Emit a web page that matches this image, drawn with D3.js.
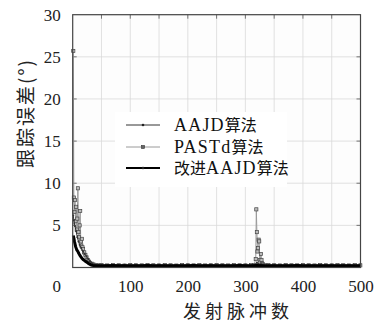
<!DOCTYPE html>
<html>
<head>
<meta charset="utf-8">
<script src="https://cdn.jsdelivr.net/npm/d3@7"></script>
<style>
  html, body { margin: 0; padding: 0; background: #fff; }
  svg { display: block; }
</style>
</head>
<body>
<svg id="chart" width="374" height="325"></svg>
<script>
// Tracking error (degrees) versus number of transmitted pulses
const xTicks = [100, 200, 300, 400, 500];
const yTicks = [5, 10, 15, 20, 25, 30];
const xGrid = [50, 100, 150, 200, 250, 300, 350, 400, 450];
const yGrid = [5, 10, 15, 20, 25];

const seriesNames = ["AAJD算法", "PASTd算法", "改进AAJD算法"];

// AAJD: pulse index and error
const aajdX = [1, 2, 3, 4, 6, 8, 10, 12, 15, 18, 21, 24, 27, 30, 33, 36, 40, 45, 50, 60, 70, 80, 90, 100, 110, 120, 130, 140, 150, 160, 170, 180, 190, 200, 210, 220, 230, 240, 250, 260, 270, 280, 290, 300, 310, 318, 320, 322, 326, 330, 340, 350, 360, 370, 380, 390, 400, 410, 420, 430, 440, 450, 460, 470, 480, 490, 500];
const aajdY = [6.2, 5.6, 5.2, 4.9, 4.3, 3.6, 3.1, 2.7, 2.3, 1.9, 1.6, 1.3, 1.0, 0.75, 0.55, 0.4, 0.32, 0.3, 0.28, 0.3, 0.26, 0.3, 0.32, 0.27, 0.3, 0.28, 0.31, 0.27, 0.29, 0.3, 0.27, 0.3, 0.28, 0.31, 0.3, 0.27, 0.3, 0.32, 0.28, 0.3, 0.27, 0.3, 0.29, 0.3, 0.28, 0.35, 0.6, 0.45, 0.35, 0.3, 0.28, 0.3, 0.27, 0.3, 0.29, 0.31, 0.28, 0.3, 0.27, 0.3, 0.29, 0.3, 0.28, 0.31, 0.3, 0.28, 0.3];

// PASTd: pulse index and error
const pastdX = [1, 2, 3, 4, 5, 6, 7, 8, 9, 10, 11, 12, 13, 14, 15, 16, 17, 18, 20, 22, 24, 26, 28, 30, 33, 36, 40, 45, 50, 60, 70, 80, 90, 100, 110, 120, 130, 140, 150, 160, 170, 180, 190, 200, 210, 220, 230, 240, 250, 260, 270, 280, 290, 300, 310, 315, 318, 319, 320, 321, 322, 323, 324, 325, 326, 327, 328, 329, 330, 331, 335, 340, 350, 360, 370, 380, 390, 400, 410, 420, 430, 440, 450, 460, 470, 480, 490, 500];
const pastdY = [25.7, 8.3, 6.6, 8.0, 5.5, 7.2, 4.5, 5.8, 9.4, 4.2, 3.6, 5.0, 6.7, 3.1, 2.6, 3.4, 2.4, 2.2, 1.8, 1.5, 1.2, 0.9, 0.7, 0.55, 0.45, 0.36, 0.3, 0.26, 0.28, 0.24, 0.3, 0.26, 0.23, 0.29, 0.26, 0.25, 0.3, 0.26, 0.24, 0.28, 0.26, 0.23, 0.3, 0.26, 0.25, 0.28, 0.24, 0.26, 0.3, 0.26, 0.24, 0.28, 0.26, 0.25, 0.27, 0.3, 1.0, 6.9, 4.2, 1.9, 2.3, 3.3, 3.1, 0.9, 0.6, 1.6, 0.9, 0.5, 0.4, 0.3, 0.26, 0.28, 0.26, 0.24, 0.29, 0.26, 0.25, 0.28, 0.26, 0.24, 0.3, 0.26, 0.25, 0.27, 0.26, 0.24, 0.28, 0.26];

// Improved AAJD: pulse index and error
const impX = [1, 2, 3, 4, 5, 6, 7, 8, 9, 10, 12, 14, 16, 18, 20, 22, 24, 26, 28, 30, 32, 35, 40, 45, 50, 60, 70, 80, 90, 100, 110, 120, 130, 140, 150, 160, 170, 180, 190, 200, 210, 220, 230, 240, 250, 260, 270, 280, 290, 300, 310, 320, 330, 340, 350, 360, 370, 380, 390, 400, 410, 420, 430, 440, 450, 460, 470, 480, 490, 500];
const impY = [3.8, 3.5, 3.1, 2.8, 2.5, 2.3, 2.1, 2.0, 1.9, 1.75, 1.5, 1.3, 1.1, 0.95, 0.85, 0.75, 0.65, 0.55, 0.45, 0.38, 0.3, 0.25, 0.22, 0.2, 0.22, 0.2, 0.23, 0.21, 0.2, 0.22, 0.2, 0.21, 0.23, 0.2, 0.22, 0.21, 0.2, 0.22, 0.21, 0.2, 0.23, 0.21, 0.2, 0.22, 0.21, 0.2, 0.22, 0.21, 0.23, 0.2, 0.22, 0.24, 0.21, 0.2, 0.22, 0.21, 0.2, 0.22, 0.23, 0.21, 0.2, 0.22, 0.21, 0.2, 0.22, 0.21, 0.2, 0.22, 0.21, 0.22];

const W = 374, H = 325;
const margin = { left: 72.7, right: 13.5, top: 14.7, bottom: 57.5 };
const iw = W - margin.left - margin.right;
const ih = H - margin.top - margin.bottom;

const svg = d3.select("#chart");
const g = svg.append("g").attr("transform", `translate(${margin.left},${margin.top})`);

const x = d3.scaleLinear().domain([0, 500]).range([0, iw]);
const y = d3.scaleLinear().domain([0, 30]).range([ih, 0]);

const serif = "'Liberation Serif', 'DejaVu Serif', serif";
const cjk = "'Noto Sans CJK SC', 'Noto Sans', sans-serif";

// plot background
g.append("rect").attr("width", iw).attr("height", ih).attr("fill", "#fdfdfd");

// grid
g.selectAll("line.gx").data(xGrid).join("line")
  .attr("x1", d => x(d)).attr("x2", d => x(d))
  .attr("y1", 0).attr("y2", ih)
  .attr("stroke", "#d9d9d9").attr("stroke-width", 0.8);
g.selectAll("line.gy").data(yGrid).join("line")
  .attr("x1", 0).attr("x2", iw)
  .attr("y1", d => y(d)).attr("y2", d => y(d))
  .attr("stroke", "#d9d9d9").attr("stroke-width", 0.8);

// axes: tick labels
const xAxis = d3.axisBottom(x).tickValues(xTicks).tickSize(0).tickPadding(12);
const gx = g.append("g").attr("transform", `translate(0,${ih})`).call(xAxis);
gx.select(".domain").remove();
gx.selectAll("text").attr("font-family", serif).attr("font-size", 17).attr("fill", "#222");

const yAxis = d3.axisLeft(y).tickValues(yTicks).tickSize(0).tickPadding(12);
const gy = g.append("g").call(yAxis);
gy.select(".domain").remove();
gy.selectAll("text").attr("font-family", serif).attr("font-size", 17).attr("fill", "#222");

// shared origin label
g.append("text")
  .attr("x", x(0) - 16).attr("y", y(0) + 25)
  .attr("text-anchor", "middle")
  .attr("font-family", serif).attr("font-size", 17).attr("fill", "#222")
  .text("0");

// inward tick marks on all four sides
const tickLen = 4;
const tickG = g.append("g").attr("stroke", "#555").attr("stroke-width", 0.8);
xGrid.forEach(v => {
  tickG.append("line").attr("x1", x(v)).attr("x2", x(v)).attr("y1", ih).attr("y2", ih - tickLen);
  tickG.append("line").attr("x1", x(v)).attr("x2", x(v)).attr("y1", 0).attr("y2", tickLen);
});
yGrid.forEach(v => {
  tickG.append("line").attr("x1", 0).attr("x2", tickLen).attr("y1", y(v)).attr("y2", y(v));
  tickG.append("line").attr("x1", iw).attr("x2", iw - tickLen).attr("y1", y(v)).attr("y2", y(v));
});

// series
g.append("clipPath").attr("id", "plotclip")
  .append("rect").attr("x", -2).attr("y", -2).attr("width", iw + 4).attr("height", ih + 4);
const plot = g.append("g").attr("clip-path", "url(#plotclip)");

const line = d3.line().x(d => x(d[0])).y(d => y(d[1]));
const pastd = pastdX.map((v, i) => [v, pastdY[i]]);
const aajd = aajdX.map((v, i) => [v, aajdY[i]]);
const imp = impX.map((v, i) => [v, impY[i]]);

plot.append("path").datum(pastd).attr("d", line)
  .attr("fill", "none").attr("stroke", "#9a9a9a").attr("stroke-width", 1);
plot.selectAll("rect.pm").data(pastd).join("rect")
  .attr("x", d => x(d[0]) - 1.6).attr("y", d => y(d[1]) - 1.6)
  .attr("width", 3.2).attr("height", 3.2)
  .attr("fill", "#bbb").attr("stroke", "#444").attr("stroke-width", 0.7);

plot.append("path").datum(aajd).attr("d", line)
  .attr("fill", "none").attr("stroke", "#333").attr("stroke-width", 1);
plot.selectAll("circle.am").data(aajd).join("circle")
  .attr("cx", d => x(d[0])).attr("cy", d => y(d[1])).attr("r", 1)
  .attr("fill", "#333");

plot.append("path").datum(imp).attr("d", line)
  .attr("fill", "none").attr("stroke", "#000").attr("stroke-width", 3)
  .attr("stroke-linejoin", "round");

// frame
g.append("rect").attr("width", iw).attr("height", ih)
  .attr("fill", "none").attr("stroke", "#444").attr("stroke-width", 1.2);

// legend
const lg = svg.append("g");
lg.append("rect").attr("x", 115).attr("y", 112).attr("width", 172).attr("height", 75).attr("fill", "#fff");
const legStyles = [
  { stroke: "#333", w: 1, marker: "dot" },
  { stroke: "#9a9a9a", w: 1, marker: "square" },
  { stroke: "#000", w: 1.8, marker: "dot" }
];
const legY = [125, 147, 168];
seriesNames.forEach((name, i) => {
  const s = legStyles[i];
  lg.append("line").attr("x1", 126).attr("x2", 160).attr("y1", legY[i]).attr("y2", legY[i])
    .attr("stroke", s.stroke).attr("stroke-width", s.w);
  if (s.marker === "square") {
    lg.append("rect").attr("x", 141.5).attr("y", legY[i] - 1.5).attr("width", 3).attr("height", 3)
      .attr("fill", "#666").attr("stroke", "#333").attr("stroke-width", 0.6);
  } else {
    lg.append("circle").attr("cx", 143).attr("cy", legY[i]).attr("r", 1.3).attr("fill", "#222");
  }
  const t = lg.append("text").attr("x", 174).attr("y", legY[i] + 6)
    .attr("fill", "#111").attr("font-size", 17);
  // split latin and CJK runs so each uses a suitable face
  const parts = name.match(/[A-Za-z]+|[^A-Za-z]+/g);
  parts.forEach(p => {
    const latin = /[A-Za-z]/.test(p);
    t.append("tspan")
      .attr("font-family", latin ? serif : cjk)
      .attr("font-size", latin ? 18 : 16)
      .attr("letter-spacing", latin ? 1.2 : 0)
      .text(p);
  });
});

// axis titles
svg.append("text")
  .attr("x", 238).attr("y", 318)
  .attr("text-anchor", "middle")
  .attr("font-family", cjk).attr("font-size", 18).attr("letter-spacing", 4)
  .attr("fill", "#222")
  .text("发射脉冲数");

svg.append("text")
  .attr("transform", "translate(33,113) rotate(-90)")
  .attr("text-anchor", "middle")
  .attr("font-family", cjk).attr("font-size", 19).attr("letter-spacing", 2)
  .attr("fill", "#222")
  .text("跟踪误差(°)");
</script>
</body>
</html>
